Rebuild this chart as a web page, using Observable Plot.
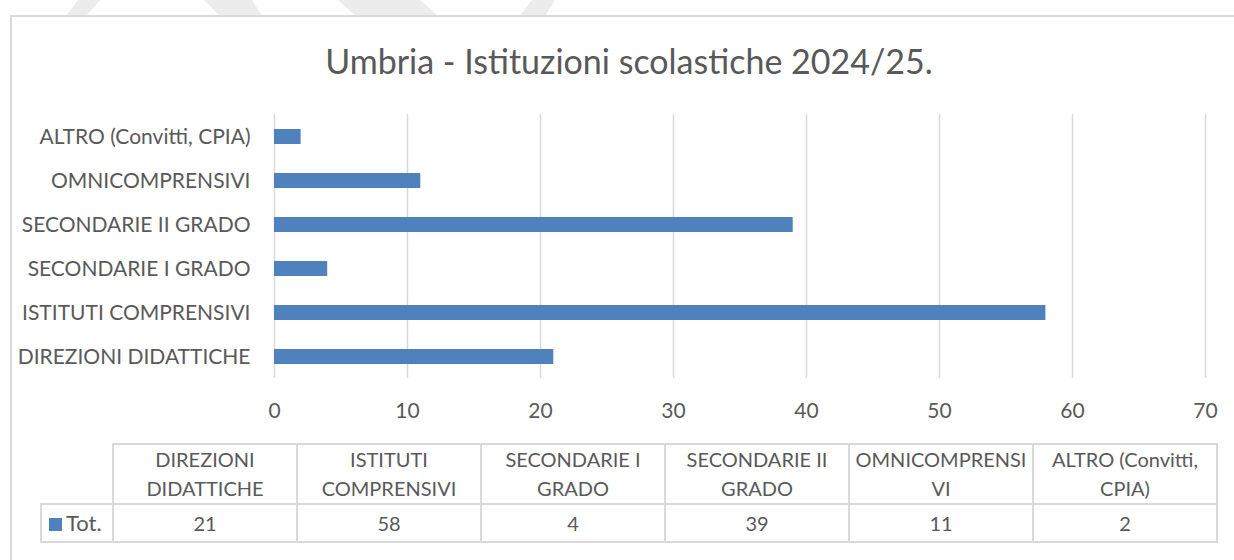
<!DOCTYPE html>
<html>
<head>
<meta charset="utf-8">
<script src="https://cdn.jsdelivr.net/npm/d3@7"></script>
<script src="https://cdn.jsdelivr.net/npm/@observablehq/plot@0.6"></script>
<style>
  html, body { margin: 0; padding: 0; background: #fff; }
  #wrap { position: relative; width: 1234px; height: 560px; overflow: hidden; background: #fff; font-family: Lato, "Open Sans", sans-serif; color: #595959; }
  #wm { position: absolute; left: 0; top: 0; }
  #frame { position: absolute; left: 10px; top: 15px; width: 1400px; height: 700px; border: 2px solid #d9d9d9; background: #fff; box-sizing: border-box; }
  #title { position: absolute; left: 10px; width: 1238px; top: 41px; text-align: center; font-size: 34px; line-height: 40px; color: #595959; }
  #chart { position: absolute; left: 0; top: 100px; }
  #tbl { position: absolute; left: 40px; top: 443px; border-collapse: collapse; table-layout: fixed; font-size: 20px; color: #595959; }
  #tbl td { border: 2px solid #d9d9d9; text-align: center; padding: 0; }
  #tbl tr.h td { height: 56px; line-height: 29px; }
  #tbl tr.d td { height: 36px; line-height: 36px; }
  #tbl td.blank { border: none; }
  #tbl td.leg { text-align: left; padding-left: 7px; font-size: 22px; }
  .sw { display: inline-block; width: 13px; height: 13px; background: #4f81bd; margin-right: 4px; vertical-align: 0px; }
</style>
</head>
<body>
<div id="wrap">
  <svg id="wm" width="1234" height="20">
    <polygon points="78,0 100,0 86,16 66,16" fill="#ececec"/>
    <polygon points="204,0 252,0 262,16 220,16" fill="#ececec"/>
    <polygon points="338,0 420,0 438,16 356,16" fill="#ececec"/>
    <polygon points="532,0 555,0 545,16 520,16" fill="#ececec"/>
  </svg>
  <div id="frame"></div>
  <div id="title">Umbria - Istituzioni scolastiche 2024/25.</div>
  <div id="chart"></div>
  <table id="tbl"></table>
</div>
<script>
// ---- data ----
const categories = ["DIREZIONI DIDATTICHE", "ISTITUTI COMPRENSIVI", "SECONDARIE I GRADO", "SECONDARIE II GRADO", "OMNICOMPRENSIVI", "ALTRO (Convitti, CPIA)"];
const values = [21, 58, 4, 39, 11, 2];
const xTicks = [0, 10, 20, 30, 40, 50, 60, 70];
const tableHeaderLines = [["DIREZIONI", "DIDATTICHE"], ["ISTITUTI", "COMPRENSIVI"], ["SECONDARIE I", "GRADO"], ["SECONDARIE II", "GRADO"], ["OMNICOMPRENSI", "VI"], ["ALTRO (Convitti,", "CPIA)"]];
const seriesName = "Tot.";

const data = categories.map((c, i) => ({cat: c, value: values[i]}));

const chart = Plot.plot({
  width: 1234,
  height: 330,
  marginLeft: 274,
  marginRight: 29,
  marginTop: 14,
  marginBottom: 52,
  style: {fontFamily: "Lato, 'Open Sans', sans-serif", fontSize: "21px", color: "#595959", background: "transparent", overflow: "visible"},
  x: {domain: [0, 70]},
  y: {domain: categories.slice().reverse(), paddingInner: 0.66, paddingOuter: 0.33},
  marks: [
    Plot.gridX(xTicks, {stroke: "#d9d9d9", strokeOpacity: 1, strokeWidth: 1.5}),
    Plot.barX(data, {x: "value", y: "cat", fill: "#4f81bd"}),
    Plot.axisX(xTicks, {tickSize: 0, tickPadding: 25, label: null, fill: "#595959", fontSize: 21}),
    Plot.axisY({tickSize: 0, tickPadding: 24, label: null, fill: "#595959", fontSize: 21})
  ]
});
document.getElementById("chart").appendChild(chart);

// ---- data table ----
const tbl = document.getElementById("tbl");
const cg = document.createElement("colgroup");
[72].concat(categories.map(() => 184)).forEach(w => {
  const c = document.createElement("col"); c.style.width = w + "px"; cg.appendChild(c);
});
tbl.appendChild(cg);
const hr = document.createElement("tr"); hr.className = "h";
const blank = document.createElement("td"); blank.className = "blank"; hr.appendChild(blank);
tableHeaderLines.forEach(lines => {
  const td = document.createElement("td");
  lines.forEach((l, i) => { if (i) td.appendChild(document.createElement("br")); td.appendChild(document.createTextNode(l)); });
  hr.appendChild(td);
});
tbl.appendChild(hr);
const dr = document.createElement("tr"); dr.className = "d";
const leg = document.createElement("td"); leg.className = "leg";
const sw = document.createElement("span"); sw.className = "sw"; leg.appendChild(sw);
leg.appendChild(document.createTextNode(seriesName));
dr.appendChild(leg);
values.forEach(v => { const td = document.createElement("td"); td.textContent = v; dr.appendChild(td); });
tbl.appendChild(dr);
</script>
</body>
</html>
